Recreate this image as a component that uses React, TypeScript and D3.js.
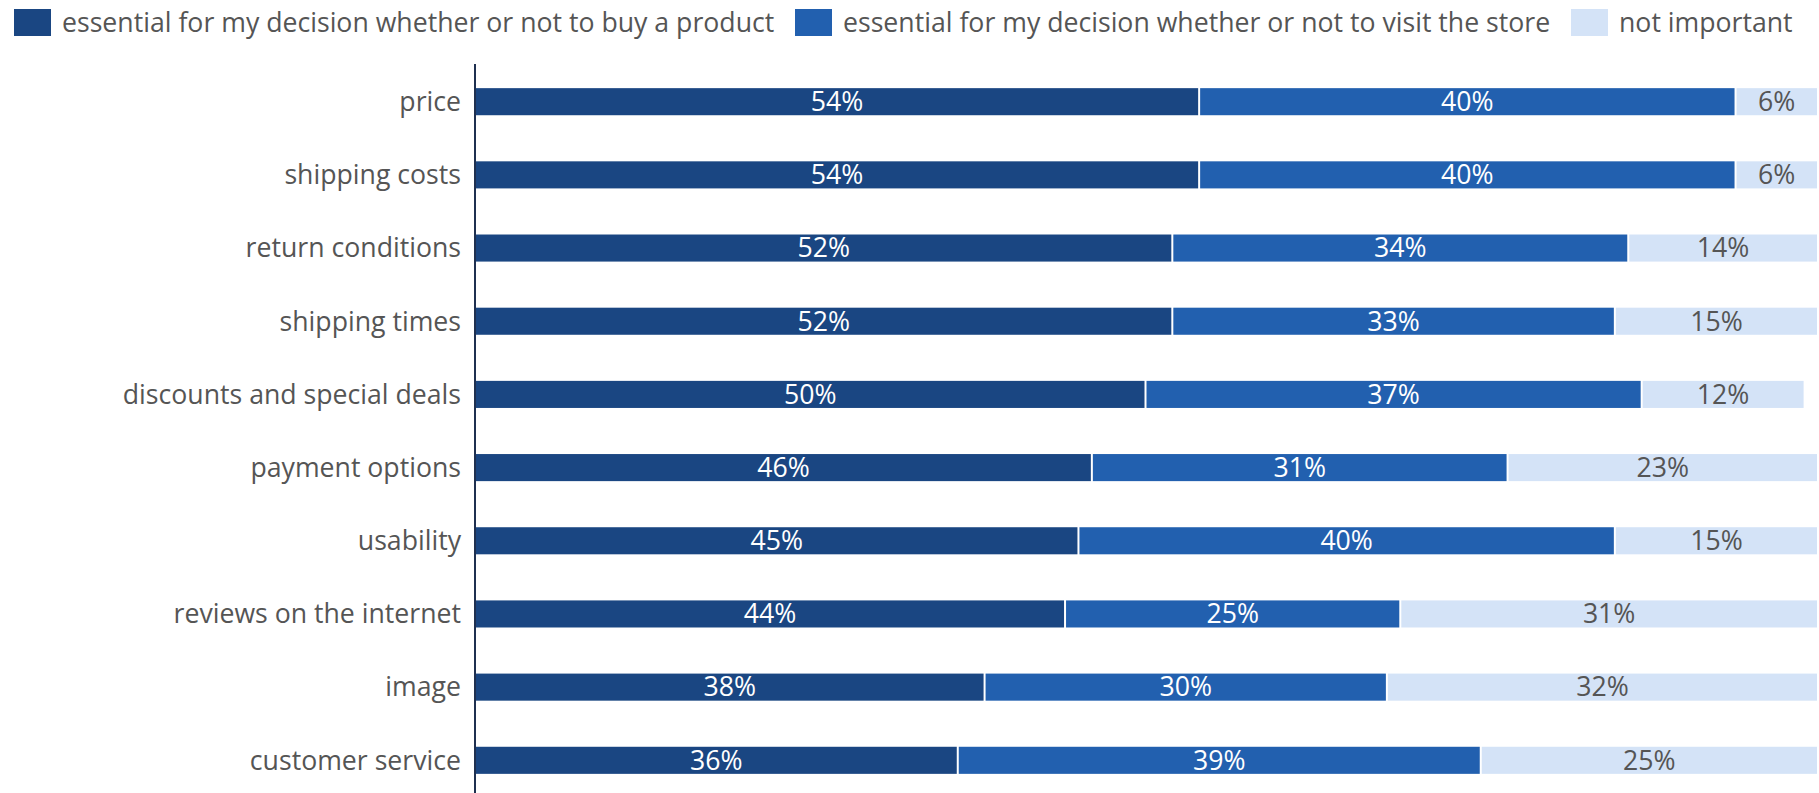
import React from "react";
import * as d3 from "d3";

const categories = [
  "price",
  "shipping costs",
  "return conditions",
  "shipping times",
  "discounts and special deals",
  "payment options",
  "usability",
  "reviews on the internet",
  "image",
  "customer service",
];
const buyProduct = [54, 54, 52, 52, 50, 46, 45, 44, 38, 36];
const visitStore = [40, 40, 34, 33, 37, 31, 40, 25, 30, 39];
const notImportant = [6, 6, 14, 15, 12, 23, 15, 31, 32, 25];
const seriesNames = [
  "essential for my decision whether or not to buy a product",
  "essential for my decision whether or not to visit the store",
  "not important",
];
const colors = ["#1a4682", "#2260af", "#d4e3f7"];
const labelColors = ["#ffffff", "#ffffff", "#555555"];

const W = 1819;
const H = 800;
const FONT = "'Open Sans', sans-serif";
const FS = 26.67;

export default function App() {
  const series = [buyProduct, visitStore, notImportant];
  const x = d3.scaleLinear().domain([0, 100]).range([476, 1817]);
  const y = d3.scaleBand().domain(categories).range([64, 798]).paddingInner(0.63).paddingOuter(0.33);
  const bw = y.bandwidth();

  const legendX = [14, 795, 1571];

  return (
    <svg
      width={W}
      height={H}
      style={{ position: "absolute", left: 0, top: 0, fontFamily: FONT }}
    >
      <g>
        {seriesNames.map((n, i) => (
          <g key={n}>
            <rect x={legendX[i]} y={9} width={37} height={27} fill={colors[i]} />
            <text x={legendX[i] + 48} y={23} dy="0.35em" fontSize={FS} fill="#555555">
              {n}
            </text>
          </g>
        ))}
      </g>
      <g>
        {categories.map((c, ci) => {
          let acc = 0;
          const y0 = y(c)!;
          return (
            <g key={c}>
              <text
                x={461}
                y={y0 + bw / 2}
                dy="0.35em"
                textAnchor="end"
                fontSize={FS}
                fill="#555555"
              >
                {c}
              </text>
              {series.map((s, si) => {
                const v = s[ci];
                const start = acc;
                acc += v;
                const x0 = x(start);
                const x1 = x(acc);
                const w = si < series.length - 1 ? x1 - x0 - 2 : x1 - x0;
                return (
                  <g key={si}>
                    <rect x={x0} y={y0} width={Math.max(0, w)} height={bw} fill={colors[si]} />
                    <text
                      x={(x0 + x0 + w) / 2}
                      y={y0 + bw / 2}
                      dy="0.35em"
                      textAnchor="middle"
                      fontSize={FS}
                      fill={labelColors[si]}
                    >
                      {v}%
                    </text>
                  </g>
                );
              })}
            </g>
          );
        })}
      </g>
      <line x1={475} x2={475} y1={64} y2={798} stroke="#1f3050" strokeWidth={2} />
    </svg>
  );
}
